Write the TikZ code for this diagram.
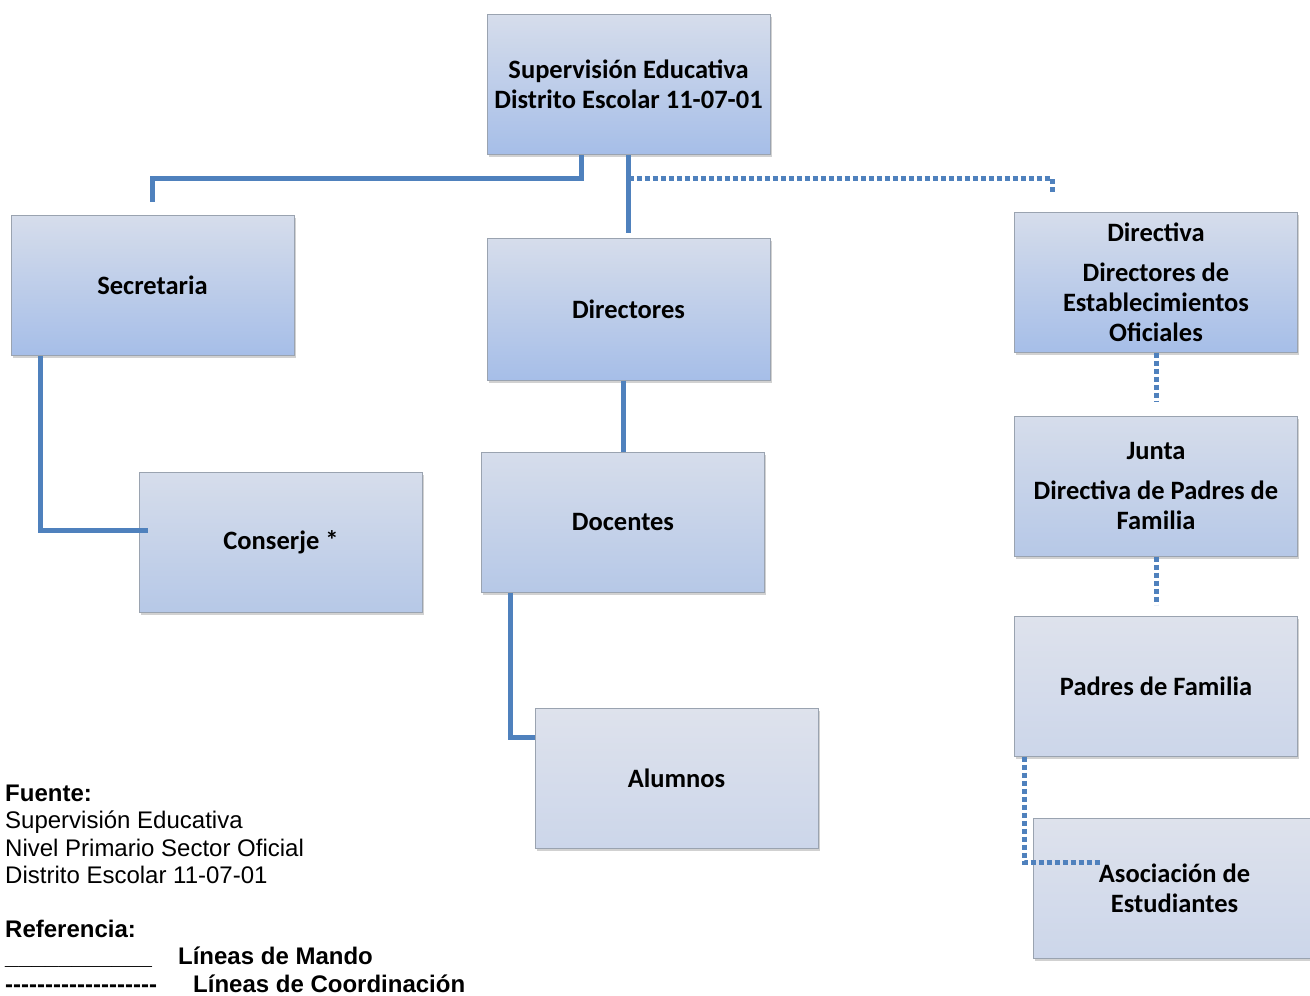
\documentclass[tikz,border=0pt]{standalone}
\usepackage{fontspec}
\setmainfont{Carlito}
\newfontfamily\legfont{Liberation Sans}
\usetikzlibrary{shadows}
\definecolor{linecol}{HTML}{4F81BD}
\definecolor{topc}{HTML}{D6DDEB}
\definecolor{strongb}{HTML}{A6BEE8}
\definecolor{medb}{HTML}{B6C8E7}
\definecolor{lighttop}{HTML}{DEE2EC}
\definecolor{lightb}{HTML}{CCD6EA}
\definecolor{bordc}{HTML}{9AA3B0}
\tikzset{
  orgbox/.style={rectangle, draw=bordc, line width=1pt, minimum width=283pt, minimum height=140pt,
     align=center, inner sep=0pt, font=\fontsize{26.5}{30}\selectfont\bfseries,
     drop shadow={shadow xshift=1.5pt, shadow yshift=-2.5pt, opacity=0.3, fill=black!60}},
  strongbox/.style={orgbox, top color=topc, bottom color=strongb},
  medbox/.style={orgbox, top color=topc, bottom color=medb},
  lightbox/.style={orgbox, top color=lighttop, bottom color=lightb},
  mando/.style={draw=linecol, line width=5pt},
  coordln/.style={draw=linecol, line width=5pt, dash pattern=on 5pt off 3pt},
}
\begin{document}
\begin{tikzpicture}[x=1pt,y=-1pt]
\useasboundingbox (0,0) rectangle (1310,996);

\node[strongbox] (sup) at (628.5,84) {Supervisión Educativa\\Distrito Escolar 11-07-01};
\node[strongbox] (sec) at (152.5,285) {Secretaria};
\node[strongbox, minimum height=142pt] (dir) at (628.5,309) {Directores};
\node[strongbox] (dirv) at (1156,282) {Directiva\\[10pt]Directores de\\Establecimientos\\Oficiales};
\node[medbox] (cons) at (281,542.5) {Conserje *};
\node[medbox] (doc) at (623,522) {Docentes};
\node[lightbox] (alu) at (676.5,778) {Alumnos};
\node[medbox] (junta) at (1156,486) {Junta\\[10pt]Directiva de Padres de\\Familia};
\node[lightbox] (pad) at (1156,686) {Padres de Familia};
\node[lightbox] (aso) at (1174.5,888) {Asociación de\\Estudiantes};

% lines of command
\draw[mando] ([xshift=-47pt]sup.south) -- ++(0,24) -| ([yshift=13pt]sec.north);
\draw[mando] (sup.south) -- ([yshift=5pt]dir.north);
\draw[mando] ([xshift=-112.5pt]sec.south) |- ([xshift=9pt,yshift=12.5pt]cons.west);
\draw[mando] (doc.north |- dir.south) -- (doc.north);
\draw[mando] ([xshift=-113pt]doc.south) |- ([yshift=41pt]alu.west);

% lines of coordination
\draw[coordln] ([yshift=-24pt]sup.south) -| ([xshift=-104pt,yshift=17pt]dirv.north);
\draw[coordln] (dirv.south) -- ([yshift=14pt]junta.north);
\draw[coordln] (junta.south) -- ([yshift=11pt]pad.north);
\draw[coordln] ([xshift=-132pt]pad.south) |- ([xshift=67pt,yshift=26pt]aso.west);

% legend
\node[anchor=north west, inner sep=0pt, align=left, font=\legfont\fontsize{24}{27.2}\selectfont] (leg) at (5,785)
{\textbf{Fuente:}\\
Supervisión Educativa\\
Nivel Primario Sector Oficial\\
Distrito Escolar 11-07-01\\
\mbox{}\\
\textbf{Referencia:}\\
\textbf{\makebox[173pt][l]{\_\_\_\_\_\_\_\_\_\_\_}Líneas de Mando}\\
\textbf{\makebox[188pt][l]{-{}-{}-{}-{}-{}-{}-{}-{}-{}-{}-{}-{}-{}-{}-{}-{}-{}-{}-{}}Líneas de Coordinación}};
\end{tikzpicture}
\end{document}
